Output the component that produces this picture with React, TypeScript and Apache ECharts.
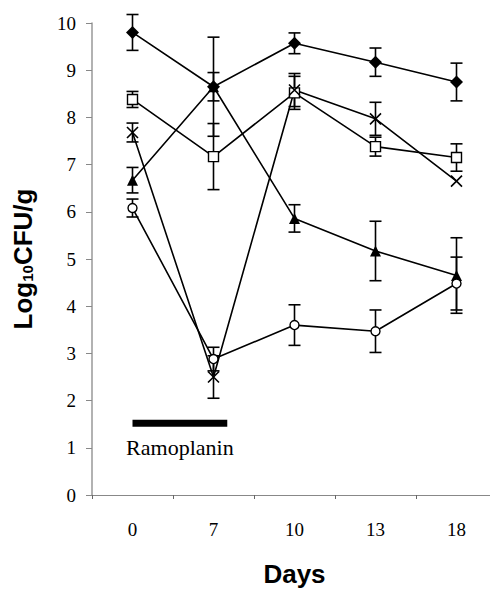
import React, { useEffect, useRef } from "react";
import * as echarts from "echarts";

const days = ["0", "7", "10", "13", "18"];
const yTicks = [0, 1, 2, 3, 4, 5, 6, 7, 8, 9, 10];

const diamondVals = [9.8, 8.65, 9.57, 9.17, 8.75];
const diamondErr = [0.38, 0.3, 0.22, 0.3, 0.4];
const squareVals = [8.38, 7.17, 8.52, 7.38, 7.15];
const squareErr = [0.17, 0.7, 0.35, 0.2, 0.29];
const crossVals = [7.68, 2.5, 8.58, 7.97, 6.65];
const crossErr = [0.2, 0.45, 0.35, 0.35, 0];
const triangleVals = [6.67, 8.65, 5.86, 5.17, 4.65];
const triangleErr = [0.27, 1.05, 0.29, 0.63, 0.8];
const circleVals = [6.08, 2.88, 3.6, 3.47, 4.48];
const circleErr = [0.19, 0.25, 0.43, 0.45, 0.56];

const ramoplaninLabel = "Ramoplanin";
const ramoplaninLevel = 1.52;

const FONT_SERIF = "Liberation Serif";
const FONT_SANS = "Liberation Sans";

function errorData(vals: number[], errs: number[]) {
  return vals
    .map((v, i) => [i, v - errs[i], v + errs[i]])
    .filter((d, i) => errs[i] > 0);
}

function errorSeries(vals: number[], errs: number[]) {
  return {
    type: "custom",
    silent: true,
    clip: false,
    z: 1,
    data: errorData(vals, errs),
    renderItem: (params: any, api: any) => {
      const x = api.value(0);
      const lo = api.coord([x, api.value(1)]);
      const hi = api.coord([x, api.value(2)]);
      const w = 6;
      const style = { stroke: "#000", lineWidth: 1.6 };
      return {
        type: "group",
        children: [
          { type: "line", shape: { x1: lo[0], y1: lo[1], x2: hi[0], y2: hi[1] }, style },
          { type: "line", shape: { x1: lo[0] - w, y1: lo[1], x2: lo[0] + w, y2: lo[1] }, style },
          { type: "line", shape: { x1: hi[0] - w, y1: hi[1], x2: hi[0] + w, y2: hi[1] }, style },
        ],
      };
    },
  };
}

function lineSeries(vals: number[], symbol: string, size: number, filled: boolean) {
  return {
    type: "line",
    data: vals,
    symbol,
    symbolSize: size,
    showAllSymbol: true,
    z: 3,
    lineStyle: { color: "#000", width: 1.6 },
    itemStyle: {
      color: filled ? "#000" : "#fff",
      borderColor: "#000",
      borderWidth: filled ? 0 : 1.4,
    },
  };
}

export default function App() {
  const ref = useRef<HTMLDivElement>(null);
  useEffect(() => {
    if (!ref.current) return;
    const chart = echarts.init(ref.current, null, { renderer: "svg" });
    chart.setOption({
      animation: false,
      backgroundColor: "#fff",
      grid: { left: 92, right: 3, top: 23, bottom: 91 },
      xAxis: {
        type: "category",
        data: days,
        boundaryGap: true,
        name: "Days",
        nameLocation: "middle",
        nameGap: 66,
        nameTextStyle: { fontFamily: FONT_SANS, fontWeight: "bold", fontSize: 26, color: "#000" },
        axisLine: { lineStyle: { color: "#888", width: 1 } },
        axisTick: { show: true, length: 4, lineStyle: { color: "#666" } },
        axisLabel: { fontFamily: FONT_SERIF, fontSize: 19, color: "#000", margin: 25 },
        splitLine: { show: false },
      },
      yAxis: {
        type: "value",
        min: 0,
        max: 10,
        interval: 1,
        name: "{a|Log}{b|10}{a|CFU/g}",
        nameLocation: "middle",
        nameGap: 56,
        nameTextStyle: {
          rich: {
            a: { fontFamily: FONT_SANS, fontWeight: "bold", fontSize: 26, color: "#000" },
            b: { fontFamily: FONT_SANS, fontWeight: "bold", fontSize: 15, color: "#000", padding: [9, 0, 0, 0] },
          },
        },
        axisLine: { show: true, lineStyle: { color: "#999", width: 1.5 } },
        axisTick: { show: true, length: 6, lineStyle: { color: "#888" } },
        axisLabel: {
          fontFamily: FONT_SERIF,
          fontSize: 19,
          color: "#000",
          margin: 16,
          formatter: (v: number) => (yTicks.includes(v) ? String(v) : ""),
        },
        splitLine: { show: false },
      },
      series: [
        errorSeries(diamondVals, diamondErr),
        errorSeries(squareVals, squareErr),
        errorSeries(crossVals, crossErr),
        errorSeries(triangleVals, triangleErr),
        errorSeries(circleVals, circleErr),
        lineSeries(diamondVals, "diamond", 13, true),
        lineSeries(squareVals, "rect", 10, false),
        {
          type: "line",
          data: crossVals,
          symbol: "path://M0,0L10,10M10,0L0,10",
          symbolSize: 11,
          showAllSymbol: true,
          z: 3,
          lineStyle: { color: "#000", width: 1.6 },
          itemStyle: { color: "none", borderColor: "#000", borderWidth: 1.6 },
        },
        lineSeries(triangleVals, "triangle", 11, true),
        lineSeries(circleVals, "circle", 9, false),
        {
          type: "custom",
          silent: true,
          clip: false,
          z: 2,
          data: [[0, ramoplaninLevel]],
          renderItem: (params: any, api: any) => {
            const start = api.coord([api.value(0), api.value(1)]);
            const band = api.size([1, 0])[0];
            const len = band * 1.17;
            return {
              type: "group",
              children: [
                {
                  type: "rect",
                  shape: { x: start[0], y: start[1] - 3.5, width: len, height: 7 },
                  style: { fill: "#000" },
                },
                {
                  type: "text",
                  x: start[0] + len / 2,
                  y: start[1] + 24,
                  style: {
                    text: ramoplaninLabel,
                    fontFamily: FONT_SERIF,
                    fontSize: 22,
                    fill: "#000",
                    align: "center",
                    verticalAlign: "middle",
                  },
                },
              ],
            };
          },
        },
      ],
    });
    return () => chart.dispose();
  }, []);
  return (
    <div
      ref={ref}
      style={{ position: "fixed", left: 0, top: 0, width: 500, height: 592, background: "#fff" }}
    />
  );
}
